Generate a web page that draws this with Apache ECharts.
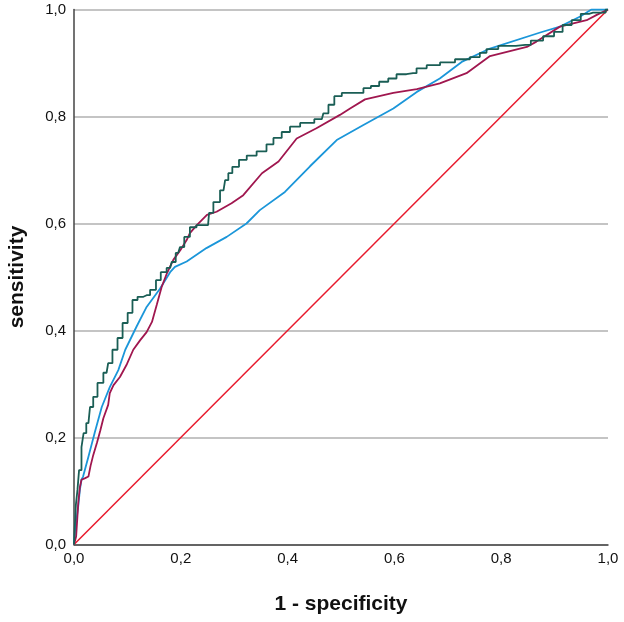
<!DOCTYPE html>
<html>
<head>
<meta charset="utf-8">
<script src="https://cdn.jsdelivr.net/npm/echarts@6/dist/echarts.min.js"></script>
<style>
html,body{margin:0;padding:0;background:#fff;}
#chart{width:624px;height:622px;}
</style>
</head>
<body>
<div id="chart"></div>
<script>
// Axis ticks
const xTicks = [0, 0.2, 0.4, 0.6, 0.8, 1.0];
const yTicks = [0, 0.2, 0.4, 0.6, 0.8, 1.0];

// Teal (step) ROC curve: [1-specificity, sensitivity]
const curveTeal = [
  [0,0],[0.002,0.023],[0.005,0.074],[0.008,0.102],[0.011,0.139],[0.017,0.182],
  [0.019,0.208],[0.027,0.227],[0.033,0.257],[0.039,0.276],[0.049,0.302],
  [0.061,0.321],[0.067,0.339],[0.077,0.364],[0.086,0.386],[0.096,0.414],
  [0.105,0.433],[0.114,0.457],[0.124,0.463],[0.136,0.466],[0.149,0.476],
  [0.158,0.494],[0.167,0.509],[0.180,0.517],[0.186,0.528],[0.195,0.545],
  [0.202,0.556],[0.211,0.575],[0.223,0.593],[0.236,0.597],[0.251,0.597],
  [0.255,0.620],[0.267,0.640],[0.280,0.662],[0.286,0.681],[0.292,0.694],
  [0.301,0.706],[0.317,0.719],[0.330,0.727],[0.354,0.735],[0.367,0.748],
  [0.380,0.760],[0.398,0.771],[0.411,0.781],[0.436,0.788],[0.464,0.795],
  [0.470,0.806],[0.483,0.822],[0.492,0.838],[0.511,0.844],[0.536,0.844],
  [0.548,0.853],[0.564,0.857],[0.579,0.865],[0.598,0.871],[0.610,0.879],
  [0.635,0.881],[0.648,0.890],[0.673,0.896],[0.698,0.901],[0.729,0.907],
  [0.754,0.911],[0.766,0.919],[0.779,0.926],[0.810,0.932],[0.845,0.934],
  [0.866,0.942],[0.891,0.950],[0.907,0.958],[0.923,0.971],[0.941,0.980],
  [0.957,0.992],[0.972,0.994],[0.991,0.994],[1,1]
];

// Crimson ROC curve
const curveCrimson = [
  [0,0],[0.004,0.015],[0.006,0.046],[0.008,0.078],[0.011,0.107],[0.014,0.121],
  [0.021,0.124],[0.027,0.127],[0.031,0.147],[0.036,0.167],[0.043,0.190],
  [0.049,0.212],[0.055,0.236],[0.064,0.261],[0.067,0.283],[0.074,0.298],
  [0.086,0.313],[0.099,0.337],[0.111,0.364],[0.124,0.382],[0.136,0.397],
  [0.146,0.416],[0.155,0.448],[0.164,0.481],[0.174,0.507],[0.186,0.532],
  [0.199,0.550],[0.211,0.569],[0.217,0.582],[0.230,0.597],[0.249,0.616],
  [0.267,0.622],[0.295,0.638],[0.317,0.653],[0.352,0.694],[0.383,0.716],
  [0.417,0.759],[0.454,0.778],[0.498,0.803],[0.517,0.815],[0.545,0.832],
  [0.598,0.844],[0.642,0.851],[0.685,0.862],[0.735,0.881],[0.779,0.913],
  [0.848,0.930],[0.866,0.940],[0.910,0.968],[0.960,0.980],[0.979,0.990],[1,1]
];

// Blue ROC curve
const curveBlue = [
  [0,0],[0.002,0.027],[0.008,0.072],[0.011,0.102],[0.014,0.121],[0.017,0.127],
  [0.027,0.164],[0.039,0.210],[0.052,0.257],[0.067,0.294],[0.083,0.326],
  [0.096,0.364],[0.117,0.407],[0.136,0.444],[0.161,0.478],[0.180,0.509],
  [0.189,0.519],[0.211,0.529],[0.248,0.554],[0.286,0.575],[0.323,0.600],
  [0.348,0.625],[0.395,0.659],[0.442,0.707],[0.492,0.756],[0.542,0.784],
  [0.598,0.815],[0.642,0.846],[0.685,0.871],[0.726,0.902],[0.779,0.927],
  [0.873,0.957],[0.910,0.968],[0.948,0.987],[0.969,1.0],[1,1]
];

// Reference diagonal
const curveDiagonal = [[0,0],[1,1]];

const fmt = v => v.toFixed(1).replace('.', ',');
const font = '"Liberation Sans", Arial, sans-serif';

const chart = echarts.init(document.getElementById('chart'), null, {renderer:'canvas'});
chart.setOption({
  animation: false,
  backgroundColor: '#ffffff',
  grid: {left: 74, right: 16, top: 9.5, bottom: 77.5, containLabel: false, outerBoundsMode: 'none'},
  xAxis: {
    type: 'value', min: xTicks[0], max: xTicks[xTicks.length-1], interval: 0.2,
    name: '1 - specificity', nameLocation: 'middle', nameGap: 49,
    nameTextStyle: {fontFamily: font, fontWeight: 'bold', fontSize: 21, color: '#111'},
    axisLine: {show: true, lineStyle: {color: '#444', width: 1.5}},
    axisTick: {show: false},
    axisLabel: {fontFamily: font, fontSize: 15, color: '#111', margin: 7, formatter: fmt},
    splitLine: {show: false}
  },
  yAxis: {
    type: 'value', min: yTicks[0], max: yTicks[yTicks.length-1], interval: 0.2,
    name: 'sensitivity', nameLocation: 'middle', nameGap: 46, nameRotate: 90,
    nameTextStyle: {fontFamily: font, fontWeight: 'bold', fontSize: 21, color: '#111'},
    axisLine: {show: true, lineStyle: {color: '#444', width: 1.5}},
    axisTick: {show: false},
    axisLabel: {fontFamily: font, fontSize: 15, color: '#111', margin: 8, formatter: fmt},
    splitLine: {show: true, lineStyle: {color: '#b0b0b0', width: 1.5}}
  },
  series: [
    {type: 'line', data: curveDiagonal, symbol: 'none', lineStyle: {color: '#e8192c', width: 1.5}, z: 2},
    {type: 'line', data: curveBlue, symbol: 'none', lineStyle: {color: '#1b96d9', width: 1.8}, z: 3},
    {type: 'line', data: curveCrimson, symbol: 'none', lineStyle: {color: '#a0174f', width: 1.8}, z: 4},
    {type: 'line', data: curveTeal, symbol: 'none', step: 'middle', lineStyle: {color: '#1a5e55', width: 1.8}, z: 5}
  ]
});
</script>
</body>
</html>
